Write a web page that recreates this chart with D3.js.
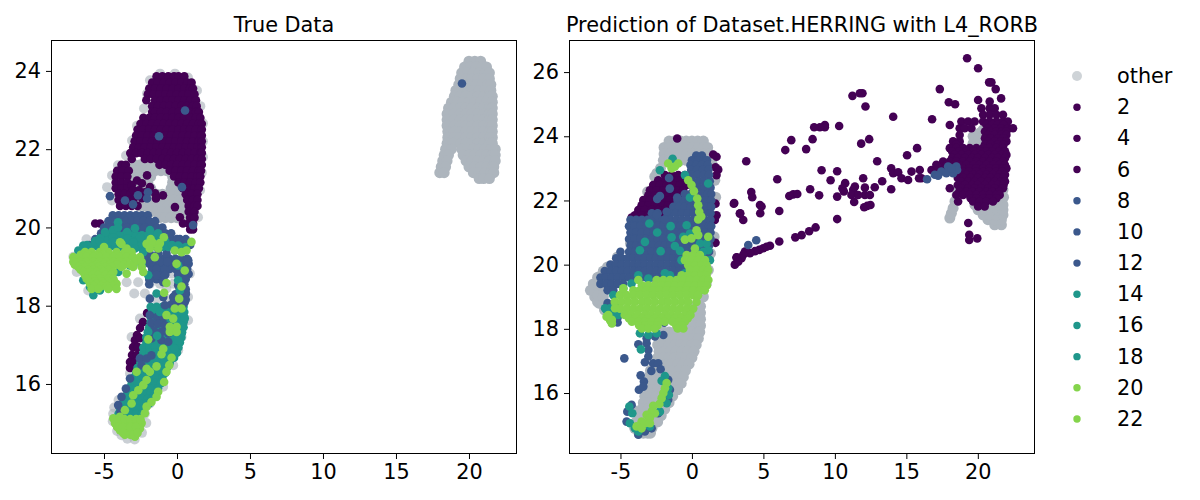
<!DOCTYPE html>
<html><head><meta charset="utf-8">
<script src="https://cdn.jsdelivr.net/npm/d3@7"></script>
<style>html,body{margin:0;background:#fff}svg{display:block}text{font-family:"DejaVu Sans",sans-serif;fill:#000}</style>
</head><body><div id="chart"></div>
<script>
// ---------- text ----------
const titleLeft = "True Data";
const titleRight = "Prediction of Dataset.HERRING with L4_RORB";
const legendLabels = ["other","2","4","6","8","10","12","14","16","18","20","22"];
const legendGroups = ["other","purple","purple","purple","blue","blue","blue","teal","teal","teal","green","green"];
const xTicks = [-5,0,5,10,15,20];
const yTicksLeft = [16,18,20,22,24];
const yTicksRight = [16,18,20,22,24,26];
const xDomainLeft = [-8.63,23.29], yDomainLeft = [14.21,24.79];
const xDomainRight = [-8.6,24], yDomainRight = [14.1,27];

// ---------- left panel: rows are [y, x, x, ...] ; pairs are [x, y] ----------
const leftOtherRows = [
[24.25,20,20.4,20.8],[24.1,19.7,20.1,20.5,20.9,21.2],[23.95,19.5,19.9,20.3,20.7,21.1,21.4],
[23.8,19.4,19.8,20.2,20.6,21,21.4],[23.65,19.3,19.7,20.1,20.5,20.9,21.3,21.5],[23.5,19.1,19.5,19.9,20.3,20.7,21.1,21.5],
[23.35,19,19.4,19.8,20.2,20.6,21,21.4,21.6],[23.2,18.8,19.2,19.6,20,20.4,20.8,21.2,21.6],[23.05,18.6,19,19.4,19.8,20.2,20.6,21,21.4,21.6],
[22.9,18.5,19,19.4,19.8,20.2,20.6,21,21.4,21.6],[22.75,18.5,19,19.4,19.8,20.2,20.6,21,21.4,21.6],[22.6,18.5,19,19.4,19.8,20.2,20.6,21,21.4,21.6],
[22.45,18.55,19,19.4,19.8,20.2,20.6,21,21.4,21.6],[22.3,18.55,19,19.4,19.8,20.2,20.6,21,21.4,21.6],[22.15,18.5,18.9,19.45,19.8,20.2,20.6,21,21.4,21.6],
[22,18.4,18.8,19.5,19.9,20.3,20.7,21.1,21.5,21.8],[21.85,18.3,18.6,19.6,20,20.4,20.8,21.2,21.6,21.8],[21.7,18.2,18.5,19.8,20.2,20.6,21,21.4,21.8],
[21.55,18.1,18.4,20,20.4,20.8,21.2,21.6,21.7],[21.4,18,18.3,20.3,20.7,21.1,21.5,21.7],[21.25,20.7,21,21.4],
[21.6,-2.9,-2.5,-2.1,-1.7],[21.45,-3.1,-2.7,-2.3,-1.9,-1.5,-1.1,-.7,-.3],[21.3,-3,-2.6,-2.2,-1.8,-.3,0],[21.15,-3.2,-2.8,-2.4,-2,-.3,.1],[21,-3,-2.6,-2.2,-1.8,-.4,.1,.4],[20.85,-3,-2.6,-2.2,-1.8,-1.4,-1,-.6,-.2,.2,.5],[20.7,-3,-2.6,-2.2,-1.8,-1.4,-1,-.6,-.2,.2,.5],[20.55,-2.6,-2.2,-1.8,-1.4,-1,-.6,-.2,.2,.6],[20.4,-1.8,-1.4,-1,-.6,-.2,.2,.6],[20.25,-1.2,-.8,-.4,0,.4,.8]
];
const leftOtherRimPairs = [
[-1.16,23.93],[-1.85,23.76],[-2.05,23.42],[-2.26,23.04],[-2.74,22.6],[-3.08,22.22],[-3.49,21.84],[-4.04,21.59],[-4.45,21.33],[-4.79,21.03],[-4.45,20.69],
[.75,23.83],[-.14,23.93],[1.37,23.5],[1.78,22.66],[1.78,22.2],[1.78,21.8],[1.58,20.95],[1.44,20.26],[1.7,21.4],[1.6,23.1],
[-6.87,18.86],[-6.08,18.39],[-3.45,18.6],[-2.66,18.6],[-1.86,18.56],[-1.17,18.56],[-.72,18.44],[-.38,18.82],[-.26,18.56],[-1.4,18.18],[-.72,18.18],[-2.93,18.31],[-2.2,18.31],
[-2.54,17.67],[-3.11,17.2],[-3.22,16.27],[-4,15.59],[-4.37,15.24],[-3.8,14.69],[-2.9,14.58],[.76,17.63],[.08,16.86],[-.95,15.93],[-1.86,15.5],[.31,17.2],[-.26,16.48],[-1.63,16.1],[-2.2,15.24],[.76,18.22],[.88,18.82],[-7.1,19.25],[-6.2,19.7],
[-4.4,15.05],[-4.1,14.8],[-3.4,14.6],[-2.4,14.75],[-2.1,15],[-4.3,15.4]
];
const leftPurpleRows = [
[23.86,-1.4,-1,-.6,-.2,.1,.5],[23.7,-1.7,-1.3,-.9,-.5,-.1,.3,.7,1],[23.55,-1.9,-1.5,-1.1,-.7,-.3,.1,.5,.9,1.1],[23.4,-2,-1.6,-1.2,-.8,-.4,0,.4,.8,1.2],
[23.25,-2.1,-1.5,-1.1,-.7,-.3,.1,.5,.9,1.3],[23.1,-1.7,-1.3,-.9,-.5,-.1,.3,.7,1.1,1.35],[22.95,-1.7,-1.5,-1.1,-.7,-.3,.1,.5,.9,1.3,1.5],
[22.8,-2.3,-1.9,-1.5,-1.1,-.7,-.3,.1,.5,.9,1.3,1.6],[22.65,-2.5,-2.1,-1.7,-1.3,-.9,-.5,-.1,.3,.7,1.1,1.5,1.7],[22.5,-2.7,-2.3,-1.9,-1.5,-1.1,-.7,-.3,.1,.5,.9,1.3,1.7],
[22.35,-2.8,-2.4,-2,-1.6,-1.2,-.8,-.4,0,.4,.8,1.2,1.6,1.7],[22.2,-2.9,-2.5,-2.1,-1.7,-1.3,-.9,-.5,-.1,.3,.7,1.1,1.5,1.7],[22.05,-3,-2.6,-2.2,-1.8,-1.4,-1,-.6,-.2,.2,.6,1,1.4,1.7],
[21.9,-3.2,-2.8,-2.4,-2,-1.6,-1.2,-.8,-.4,0,.4,.8,1.2,1.6,1.7],[21.75,-3.1,-2.2,-1.8,-1.4,-1,-.6,-.2,.2,.6,1,1.4,1.7],[21.6,-3.8,-3.5,-1.2,-.8,-.4,0,.4,.8,1.2,1.6,1.7],
[21.45,-4.1,-3.7,-3.3,-.5,-.1,.3,.7,1.1,1.5,1.65],[21.3,-4.2,-3.8,-3.4,-.2,.2,.6,1,1.4,1.6],[21.15,-4.2,-3.8,-3.4,.1,.5,.9,1.3,1.6],[21,-4.2,-3.8,-3.4,.4,.8,1.2,1.5],
[20.85,-4,-3.6,-3.2,.6,1,1.4],[20.7,-4,-3.6,-3.2,.7,1.1,1.4],[20.55,-3.9,-3.5,-3.1,-2.7,.8,1.2,1.4],[20.4,.8,1.2],[20.25,.9,1.2],[20.1,.8,1.1],[19.95,.9,1.1]
];
const leftPurplePairs = [
[-2.05,21.33],[-2.74,21.2],[-3.1,21.08],[-2.4,21.13],[-1.85,21.03],[-1.5,20.87],[-.96,20.82],[-1.44,20.74],[-.14,20.52],[.2,20.26],[.41,20.1],[-5.27,20.1],[-5.6,20.1],
[-3,20.95],[-2.6,20.95],[-2.2,20.9],[-2.8,20.8],[-2.4,20.75],[-3,20.7],
[-2.05,17.81],[-2.33,17.58],[-2.53,17.43],[-2.74,17.25],[-2.88,17.12],[-2.53,17.17],[-3.01,16.94],[-2.67,16.94],[-3.08,16.74],[-2.74,16.74],[-3.22,16.56],[-2.88,16.56],[-3.22,16.41]
];
const leftLowerTealRows = [
[17.97,-1.8,-1.4,-1,-.6,-.2,.2,.45],[17.84,-1.7,-1.3,-.9,-.5,-.1,.3,.5],[17.71,-1.8,-1.4,-1,-.6,-.2,.2,.5],[17.58,-1.8,-1.4,-1,-.6,-.2,.2,.45],[17.45,-1.9,-1.5,-1.1,-.7,-.3,.1,.45],[17.32,-2,-1.6,-1.2,-.8,-.4,0,.35],[17.19,-2.1,-1.7,-1.3,-.9,-.5,-.1,.3],[17.06,-2.1,-1.7,-1.3,-.9,-.5,-.1,.2],[16.93,-2.3,-1.9,-1.5,-1.1,-.7,-.3,.1],[16.8,-2.3,-1.9,-1.5,-1.1,-.7,-.3,0],[16.67,-2.5,-2.1,-1.7,-1.3,-.9,-.5,-.2],[16.54,-2.5,-2.1,-1.7,-1.3,-.9,-.5],[16.41,-2.7,-2.3,-1.9,-1.5,-1.1,-.7],[16.28,-2.8,-2.4,-2,-1.6,-1.2,-.8],[16.15,-3,-2.6,-2.2,-1.8,-1.4,-1],[16.02,-3.1,-2.7,-2.3,-1.9,-1.5,-1.1],[15.89,-3.3,-2.9,-2.5,-2.1,-1.7,-1.3],[15.76,-3.4,-3,-2.6,-2.2,-1.8,-1.5],[15.63,-3.6,-3.2,-2.8,-2.4,-2,-1.7],[15.5,-3.7,-3.3,-2.9,-2.5,-2.1,-1.9],[15.37,-3.9,-3.5,-3.1,-2.7,-2.3],[15.24,-4,-3.6,-3.2,-2.8,-2.4]
];
const leftBlueRows = [
[20.31,-4.4,-4,-3.6,-3.2,-2.8,-2.4,-2],[20.16,-4.7,-4.3,-3.9,-3.5,-3.1,-2.7,-2.3,-1.9,-1.5],[20,-5,-4.6,-4.2,-3.8,-3.4,-3,-2.6,-2.2,-1.8,-1.4,-1],
[19.85,-5.2,-4.8,-4.4,-4,-3.6,-3.2,-2.8,-2.4,-2,-1.6,-1.2,-.8,-.4],[19.7,-5.6,-5.2,-4.8,-4.4,-4,-3.6,-3.2,-2.8,-2.4,-2,-1.6,-1.2,-.8,-.4,0,.2,.6],
[19.55,-6,-5.5,-5,-4.5,-4,-3.5,-3,-2.5,-2,-1.5,-1,-.5,0,.5,.9],
[19.2,-2.1,-1.7,-1.3,-.9,-.5,-.1,.3,.7],[19.07,-1.9,-1.5,-1.1,-.7,-.3,.1,.5,.8],[18.94,-1.7,-1.3,-.9,-.5,-.1,.3,.7],[18.81,-1.5,-1.1,-.8,.1,.5,.8],[18.68,-1.9,-1.4,-1,.2,.6],[18.55,-1.9,.1,.5],[18.42,.2,.6],[18.29,-.1,.3,.6],[18.16,-.2,.2,.6],[18.03,-.4,0,.4]
];
const leftBluePairs = [
[.55,22.99],[-1.23,22.33],[.34,21.03],[-4.59,20.8],[-3.56,20.69],[-3.01,20.59],[-2.67,20.82],[-1.99,20.9],[-2.05,20.74],[1.1,20.06],[19.52,23.68],
[-1.86,19.33],[-1.29,19.33],[-.72,19.33],[-.15,19.41],[.42,19.41],[-1.75,19.12],[-1.17,19.12],[-.67,19.12],[-.03,19.07],[.77,19.16],[-1.4,18.95],[-.83,18.92],[-1.4,18.78],[-.83,18.78],[.08,18.78],[.53,18.7],[-1.86,18.65],[-.94,18.6],[.08,18.52],[.6,18.33],[-1.86,18.18],[-.94,18.22],[-.26,18.22],[.31,18.31],[-.83,18.01],[-.03,18.01],[.53,18.09],
[-1.86,17.76],[-1.36,17.71],[-.94,17.69],[-1.75,17.56],[-1.29,17.54],[-.83,17.5],[-1.59,17.37],[-1.06,17.33],[-.6,17.29],[-1.75,17.16],[-1.06,17.12],[-.6,17.08],[-2.54,16.65],[-2.08,16.65],[-1.75,16.73],[-2.43,16.48],[-3.22,16.14],[-3.5,15.88],[-3.8,15.67],[-4.03,15.46],[-3.87,15.29]
];
const leftTealRows = [
[19.8,-4.8,-4.4,-4,-3.6,-3.2,-2.8,-2.4,-2,-1.6],[19.65,-5.6,-5.2,-4.8,-4.4,-4,-3.6,-3.2,-2.8,-2.4,-2,-1.6,-1.2,-.8],[19.5,-6.2,-5.8,-5.4,-5,-4.6,-4.2,-3.8,-3.4,-3,-2.6,-2.2,-1.8,-1.4,-1,-.6,-.2,.2,.6]
];
const leftTealPairs = [
[-4.04,20.13],[-4.93,19.88],[-4.38,19.93],[-3.42,19.88],[-2.88,19.98],[-1.85,19.93],[-1.3,19.85],[-5.62,19.62],[-6.16,19.55],[-5.27,19.72],[-4.38,19.75],[-3.42,19.72],[-2.53,19.75],[-.34,19.55],[-4.04,20],[-3.9,19.67],[-3.01,19.62],
[-6.76,19.41],[-6.42,19.54],[-5.73,18.27],[-5.28,19.63],[-4.36,19.63],[-3.57,19.54],[-2.88,19.46],[-2.31,19.37],[-4.02,18.86],[-3.22,19.03],[-2.42,19.03],[-1.97,18.78],[-5.73,18.56],[-6.42,18.65],[-5.28,18.39],[-5.96,18.48],
[-1.4,18.31],[.08,19.54],[.08,18.65],[.08,19.03],[.2,18.39],[-1.52,17.93],[-1.17,17.84],[.31,17.84],[.53,17.67],[.31,17.5],[.31,17.29],[.08,17.12],[-.15,16.9],[-1.97,17.33],[-1.36,17.23]
];
const leftGreenRows = [
[19.37,-6.3,-5.85,-5.28,-4.7,-4.14,-3.57,-3.11],[19.3,-6.6,-6.1,-5.6,-5.1,-4.6,-4.1,-3.7,-3.3],[19.24,-7.1,-6.65,-6.19,-5.73,-5.28,-4.82,-4.36,-3.91,-3.45,-3,-2.54],[19.12,-7.1,-6.65,-6.19,-5.73,-5.28,-4.82,-4.36,-3.91,-3.45,-2.88,-2.42],[19.05,-7,-6.5,-6,-5.5,-5,-4.6,-4.1,-3.6,-3.2],
[18.99,-6.76,-6.3,-5.85,-5.39,-4.93,-4.48,-3.8,-3,-2.42],[18.92,-6.6,-6.1,-5.7,-5.2,-4.7],[18.86,-6.42,-5.96,-5.5,-5.05,-4.36,-2.31],[18.78,-6.3,-5.8,-5.4,-4.9,-4.5],[18.69,-6.19,-5.73,-5.28,-4.7,-4.36],[18.62,-6,-5.6,-5.1,-4.7,-4.3],[18.56,-5.96,-5.5,-5.05,-4.59,-4.14],[18.5,-5.7,-5.2,-4.8,-4.4],[18.43,-5.85,-5.39,-4.7,-4.14]
];
const leftGreenPairs = [
[-3.9,19.62],[-5,19.5],[-1.8,19.7],[-.9,19.75],
[-3.45,18.82],[-3.8,19.58],[-3.45,19.46],[-2.08,19.58],[-1.63,19.6],[-1.17,19.6],[-1.86,19.46],[-1.29,19.46],[-1.52,19.24],[-.72,18.58],[-.88,18.33],[-.03,19.07],[.53,18.9],[.31,18.49],[-.15,19.41],[.31,19.37],[.65,19.41],[.99,19.63],[.15,18.18],[-.15,17.93],[.31,17.93],[-.72,17.76],[-.26,17.67],[-.49,17.46],[-.03,17.46],[-.49,17.33],[-.03,17.33],[-1.97,17.14],[-.94,16.9],[-1.06,16.76],[-.37,16.67],[-.53,16.48],[-.72,16.31],[-.88,16.05],[-1.29,15.8],[-1.4,15.67],[-1.75,15.54],[-2.08,15.42],[-2.2,15.25],
[-1.4,16.45],[-1.86,16.31],[-2.08,16.39],[-2.77,16.31],[-2.08,16.1],[-2.31,15.97],[-2.65,15.84],[-3,15.71],[-3.11,15.5],[-3.57,15.33],
[-4.36,15.12],[-3.91,15.16],[-4.25,15],[-3.8,15],[-3.34,14.95],[-3,15],[-2.42,15],[-3.91,14.82],[-3.45,14.82],[-3,14.82],[-2.54,14.86],[-3.57,14.7],[-2.88,14.65],
[-4.1,15.05],[-3.6,15.1],[-3.2,15.1],[-2.8,15.1],[-4.1,14.9],[-3.7,14.9],[-3.2,14.9],[-2.8,14.9],[-2.5,15.1],[-3.7,14.75],[-3.2,14.7],[-3,14.7],[-2.7,14.75]
];

// ---------- right panel ----------
const rightOtherRows = [
[23.85,-1.6,-1.2,-.8,-.4,0,.4,.8],[23.65,-1.95,-1.55,-1.15,-.75,-.35,.05,.45,.85,1.1],[23.45,-1.95,-1.55,-1.15,-.75,-.35,.05,.45,.85,1.2],[23.25,-2,-1.6,-1.2,-.8,-.4,0,.4,.8,1.2],
[19.8,-6.2,-5.9],[19.6,-6.6,-6.3],[19.4,-6.9,-6.5],[19.2,-7.1,-6.7,-6.3],[19,-6.8,-6.4],[18.8,-6.5,-6.2],[18.6,-6.1,-5.9],
[18.7,.2,.6],[18.5,-.1,.3,.6],[18.3,-.4,0,.4,.6],[18.1,-.9,-.5,-.1,.3,.6],[17.9,-2,-1.6,-1.2,-.8,-.4,0,.4,.55],[17.7,-2.3,-1.9,-1.5,-1.1,-.7,-.3,.1,.45],[17.5,-2.4,-2,-1.6,-1.2,-.8,-.4,0,.3],[17.3,-2.3,-1.9,-1.5,-1.1,-.7,-.3,.15],[17.1,-2.4,-2,-1.6,-1.2,-.8,-.4,0],[16.9,-2.6,-2.2,-1.8,-1.4,-1,-.6,-.2],[16.7,-2.9,-2.5,-2.1,-1.7,-1.3,-.9,-.45],[16.5,-3,-2.6,-2.2,-1.8,-1.4,-1,-.6],[16.3,-3,-2.6,-2.2,-1.8,-1.4,-1.1,-.75],[16.1,-3.2,-2.8,-2.4,-2,-1.6,-1.2,-1],[15.9,-3.3,-2.9,-2.5,-2.1,-1.7,-1.35],[15.7,-3.4,-3,-2.6,-2.2,-1.8,-1.6],[15.5,-3.5,-3.1,-2.7,-2.3,-1.9],[15.3,-3.7,-3.3,-2.9,-2.5,-2.15],[15.1,-3.9,-3.5,-3.1,-2.7,-2.4],[14.9,-4,-3.6,-3.2,-2.8],[14.75,-3.7,-3.4,-3.1,-2.9],
[21.24,21.18,21.65],[21.4,20.71,21.18,21.65],[21.55,20.37,20.83,21.3,21.76],[21.71,20.02,20.48,20.95,21.41,21.76],[21.86,19.8,20.6,21.06,21.5,21.76]
];
const rightOtherPairs = [
[-2.6,22.74],[-3.1,22.27],[-3.55,21.7],[-4.15,21.28],[-4.3,20.66],[-5.2,20.24],[-5.9,19.93],[-6.5,19.62],[-6.95,19.2],[-6.6,18.84],[-6.1,18.58],[-2.2,23],[-2.45,22.85],[-6.5,19.3],[-6.2,19.6],[-6.6,19.05],[-6.2,19],[-6.2,18.75],
[1.4,23.15],[1.66,22.1],[1.6,22.63],[1.55,21.49],[1.55,20.87],[1.3,20.35],[1.15,19.83],[1,19.4],[.8,19],[-4.1,15.47],
[19.67,24],[20.13,24.1],[20.37,24.2],[19.67,23.78],[20.02,23.84],[18.04,21.45],[18.15,21.6],[18.27,21.76],[18.4,21.97],[18.55,22.17],[18.62,22.38],[21.76,22.33],[21.8,22.1],[21.8,22.6]
];
const rightPurpleRows = [
[22.79,-1.89,-1.42,-.96,-.49],[22.63,-2.36,-1.89,-1.42,-.96,-.49],[22.48,-2.71,-2.24,-1.77,-1.31,-.84,-.37],[22.32,-2.94,-2.47,-2,-1.54,-1.07,-.61],[22.16,-3.05,-2.59,-2.12,-1.66,-1.19,-.72],[22.01,-3.4,-2.94,-2.47,-2,-1.54,-1.07],[21.85,-3.52,-3.05,-2.59,-2.12,-1.66],[21.7,-3.75,-3.29,-2.82,-2.36,-1.89],[21.54,-3.99,-3.52,-3.05,-2.12,-1.66],
[24.87,20.25,20.83,21.18],[24.67,20.37,20.83,21.3,21.76],[24.46,18.85,19.32,19.78,20.37,20.83,21.3,21.76,22.1],[24.36,20.6,21,21.4,21.8],[24.25,18.73,19.08,19.55,20.72,21.18,21.65,22.1,22.46],[24.15,20.5,20.9,21.3,21.7,22],[24.04,18.73,20.72,21.18,21.65,22],[23.94,20.5,20.9,21.4,21.8],[23.84,18.27,18.73,20.72,21.18,21.65,22],[23.74,18.5,20.5,20.9,21.4,21.8],[23.63,18.04,18.5,18.97,19.43,19.9,20.37,20.83,21.3,21.76],[23.53,18.2,18.7,19.2,19.7,20.2,20.6,21,21.5,21.9],[23.42,18.38,18.85,19.32,19.78,20.25,20.72,21.18,21.65,22],[23.32,18.2,18.6,19.1,19.6,20,20.5,21,21.4,21.9],[23.21,17.57,18.04,18.5,18.97,19.43,19.9,20.37,20.83,21.3,21.76],[23.1,17.8,18.3,18.7,19.2,19.7,20.1,20.6,21.1,21.5,21.9],[23,17.1,17.57,18.04,18.5,18.97,19.43,19.9,20.37,20.83,21.3,21.76,22],[22.9,18.5,19,19.4,19.9,20.4,20.8,21.3,21.7],[22.8,18.73,19.2,19.67,20.13,20.6,21.06,21.53,21.9],[22.7,18.6,19,19.5,20,20.5,20.9,21.4,21.8],[22.59,18.85,19.32,19.78,20.25,20.72,21.18,21.65,21.9],[22.48,18.6,19.1,19.6,20,20.5,21,21.4,21.8],[22.38,18.04,18.85,19.32,19.78,20.25,20.72,21.18,21.76],[22.27,18.7,19.2,19.6,20.1,20.6,21,21.5],[22.17,18.5,18.97,19.43,19.9,20.37,20.83,21.3,21.53],[22.07,19.5,19.9,20.4,20.8,21.3],[21.97,18.62,19.67,20.13,20.6,21.06],[21.81,20.02,20.48]
];
const rightPurplePairs = [
[19.25,26.43],[20.02,26.12],[20.95,25.68],[20.79,25.68],[21.25,25.47],[21.63,25.18],[20.83,25.08],[20.02,25.13],[17.34,25.47],[17.97,25.06],[18.41,25],[16.8,24.53],[18.04,24.35],[14.08,24.61],[11.23,25.26],[11.75,25.34],[11.93,25.34],[12.14,24.93],[10.3,24.32],[9.3,24.35],[9.3,24.28],[8.95,24.28],[8.55,24.28],[8.44,23.91],[6.95,23.88],[6.53,23.57],[7.99,23.6],[12.4,23.91],[11.84,23.77],[15.75,23.63],[15.05,23.41],[12.96,23.22],[3.8,23.22],[9.07,22.94],[10.16,22.91],[5.97,22.66],[9.7,22.63],[11.98,22.69],[10.72,22.54],[10.53,22.38],[10.63,22.28],[11.4,22.43],[11.28,22.33],[11.16,22.17],[12.1,22.4],[12.1,22.17],[12.45,22.17],[11.63,22.17],[12.79,22.41],[13.31,22.6],[13.94,23],[14.08,22.85],[14.43,22.88],[14.66,22.69],[15.12,22.64],[15.36,22.9],[15.94,22.95],[16.06,22.69],[15.89,22.69],[16.76,22.95],[17.1,23.11],[13.94,22.35],[8.27,22.35],[8.9,22.16],[10.16,22.12],[11.35,21.95],[6.81,22.14],[7.09,22.19],[7.37,22.2],[4.15,22.26],[4.22,22.1],[2.96,21.92],[3.38,21.6],[3.59,21.39],[4.76,21.86],[4.87,21.81],[4.78,21.6],[6.11,21.67],[12.05,21.79],[12.26,21.83],[12.49,21.86],[10.16,21.42],[8.65,21.16],[8.2,21.04],[7.67,20.92],[7.23,20.85],[6.11,20.72],[5.46,20.59],[5.22,20.56],[4.99,20.51],[4.71,20.46],[4.41,20.42],[4.06,20.36],[3.71,20.41],[3.59,20.31],[3.13,20.23],[3.47,20.2],
[-1.03,23.93],[1.49,23.43],[1.72,23.36],[1.65,23.03],[1.84,22.96],[1.72,22.79],[1.65,21.9],[2.93,21.9],[3.35,21.59],[1.72,21.54],[1.6,21.39],[1.65,20.68],[3.12,20.22],[3,20],[3.24,20.09],[-4.22,21.47],
[19.33,21.3],[19.4,20.93],[19.4,20.77],[19.96,20.82]
];
const rightBlueRows = [
[23.4,.3,.7],[23.25,0,.4,.8,1.05],[23.1,-.1,.3,.7,1.1],[22.95,-.05,.35,.75,1.15],[22.8,0,.4,.8,1.2],[22.6,.05,.45,.85,1.25],[22.4,.1,.5,.9,1.3],[22.2,-.5,-.1,.3,.7,1.1,1.35],[22,-1,-.6,-.2,.2,.6,1,1.35],[21.8,-1.3,-.9,-.5,-.1,.3,.7,1.1,1.35],[21.6,-2.8,-2.4,-1.5,-1.1,-.7,-.3,.1,.5,.9,1.3],
[21.4,-4.3,-3.9,-3.5,-3.1,-2.7,-2.3,-1.9,-1.5,-1.1,-.7,-.3,.1,.5,.9,1.3],[21.2,-4.4,-4,-3.6,-3.2,-2.8,-2.4,-2,-1.6,-1.2,-.8,-.4,0,.4,.8,1.2,1.35],[21,-4.3,-3.9,-3.5,-3.1,-2.7,-2.3,-1.9,-1.5,-1.1,-.7,-.3,.1,.5,.9,1.3],[20.8,-4.4,-4,-3.6,-3.2,-2.8,-2.4,-2,-1.6,-1.2,-.8,-.4,0,.4,.8,1.2,1.3],[20.6,-4.3,-3.9,-3.5,-3.1,-2.7,-2.3,-1.9,-1.5,-1.1,-.7,-.3,.1,.5,.9,1.2],
[20.4,-5,-4.4,-4,-3.6,-3.2,-2.8,-2.4,-2,-1.6,-1.2,-.8,-.4,0,.4,.8,1.2],[20.2,-5.3,-4.9,-4.5,-4.1,-3.7,-3.3,-2.9,-2.5,-2.1,-1.7,-1.3,-.9,-.5,-.1,.3,.7,1.1],[20,-5.7,-5.3,-4.9,-4.5,-4.1,-3.7,-3.3,-2.9,-2.5,-2.1,-1.7,-1.3,-.9,-.5,-.1,.1],[19.8,-6.1,-5.7,-5.3,-4.9,-4.5,-4.1,-3.7,-3.3,-2.9,-2.5,-2.1,-1.7,-1.3,-.9,-.5,-.3],[19.6,-6.4,-6,-5.6,-5.2,-4.8,-4.4,-4,-3.6,-3.2,-2.8,-2.4,-2,-1.6,-1.2],[19.4,-6.4,-6,-5.6,-5.2,-4.8],[19.2,-5.9,-5.5]
];
const rightBluePairs = [
[-1.6,22.7],[-1.55,22.37],[-2.43,22.05],[-2.24,22.14],[-1.03,22.09],[-1.77,21.65],[-2.47,21.55],[-1.89,21.41],
[-5.6,18.2],[-5.2,18.2],[-5.9,18.8],[-5.5,18.5],[-5.2,18.35],
[-3.75,17.52],[-3.17,17.55],[-3.05,17.34],[-3.05,17.14],[-3.29,16.96],[-2.71,16.93],[-2.36,16.93],[-2.19,16.74],[-4.73,17.08],[-2.84,16.69],[-3.59,16.55],[-3.36,16.36],[-3.71,16.1],[-3.4,16.2],[-1.94,18.19],[-2,17.81],[-2.59,17.76],[-3.17,17.71],[-1.66,16.41],[-1.54,16.1],[-1.66,15.79],[-4.22,15.63],[-4.52,15.42],[-3.75,14.7],[-3.29,14.8],[-2.82,14.9],[-4.57,15.11],[-2.36,15.37],
[16.45,22.66],[16.99,22.8],[17.45,22.9],[17.92,23.06],[18.5,23.06],[17.8,22.85],[18.27,22.85],[18.55,22.95],[17.22,22.77],[18.15,23],[3.94,20.61],[4.5,20.76]
];
const rightTealPairs = [
[-2.98,21.28],[-2.43,21],[-1.49,21.2],[-.37,21.23],[-1.42,20.85],[-3.29,20.71],[-3.64,20.45],[-2.19,20.42],[-1.19,20.58],[-.84,20.43],[-.61,20.87],[-.14,20.97],[1.14,22.53],[-.14,22.09],[-2.24,22.94],[-1.35,23.3],[-.49,22.79],[.56,20.66],[1.02,20.66],[1.14,20.45],[.79,20.4],[.44,20.35],[1.26,20.14],[-.73,20.14],[-3.75,19.67],[-3.05,19.57],[-1.89,19.73],[-1.54,19.67],[-.49,19.73],[-4.22,19.41],[-4.8,19.26],[-5.5,19.05],[-5.97,18.58],[-5.6,18.43],[-5.15,18.69],[.79,20.04],
[-3.64,17.86],[-3.05,17.81],[-2.47,17.86],[-3.57,17.36],[-5.73,18.64],[-5.38,18.6],[-6.08,18.64],[-5.15,18.43],
[-4.38,15.58],[-4.17,15.37],[-4.34,15.06],[-1.89,16.53],[-2.12,16.38],[-1.66,16.15],[-1.61,15.94],[-1.77,15.68],[-2.24,15.42],[-2.94,14.96],[-3.75,14.8],[-3.99,14.9]
];
const rightGreenRows = [
[20.3,-.37,.09,.56],[20.14,-.49,-.02,.44,.91],[19.98,-.26,.21,.67,1.02],[19.83,-.14,.32,.79,1.14],[19.67,-.72,-.26,.21,.67,1.02],[19.52,-2.47,-2,-1.54,-1.07,-.61,-.14,.32,.79,1.15],[19.36,-3.5,-3.05,-2.6,-2.1,-1.65,-1.2,-.72,-.26,.21,.67,1.05],[19.2,-4.1,-3.64,-3.17,-2.71,-2.24,-1.77,-1.31,-.84,-.37,.09,.56,.9],[19.05,-5.04,-4.57,-4.1,-3.64,-3.17,-2.71,-2.24,-1.77,-1.31,-.84,-.37,.09,.43],[18.84,-5.4,-4.92,-4.45,-4,-3.5,-3.05,-2.6,-2.1,-1.65,-1.2,-.72,-.26,.32],[18.63,-5.04,-4.57,-4.1,-3.64,-3.17,-2.71,-2.24,-1.77,-1.31,-.84,-.37,.09],[18.43,-4.7,-4.25,-3.8,-3.3,-2.85,-2.4,-1.9,-1.45,-1,-.5,-.1],[18.32,-4.4,-3.95,-3.5,-3.05,-2.6,-2.1,-1.65,-1.2,-.75,-.3],[18.22,-4.2,-3.75,-3.3,-2.8,-2.35,-1.9,-1.35,-.9,-.5],[18.11,-3.7,-3.25,-2.8,-2.4,-1.1,-.7],[18.01,-3.5,-3.05,-2.6,-1,-.6]
];
const rightGreenPairs = [
[-1.66,23.15],[-.96,23.15],[-1.42,23],[-1.2,23.05],[-.26,22.63],[-.03,22.48],[.14,22.29],[.37,22.06],[.44,21.85],[.51,21.65],[.44,21.41],[.65,21.5],[.32,21.07],[-.49,20.78],[-.03,20.82],[1.14,20.87],[.44,20.92],[.21,20.5],[-3.75,19.52],[-4.8,19.26],[-5.73,18.27],[-5.97,18.38],[-5.38,18.64],[-5.6,18.17],[-5.6,18.28],[-5.85,18.43],
[-1.77,16.31],[-1.89,16.15],[-2,16],[-2.12,15.84],[-2.28,15.66],[-2.71,15.6],[-2.82,15.42],[-2.59,15.37],[-3.17,15.32],[-2.94,15.22],[-3.52,15.11],[-3.29,15.06],[-3.87,14.96],[-3.52,14.9],[-2.94,15.06]
];

// ---------- drawing ----------
const W = 1200, H = 500;
const fontPx = "20.8px";
const colors = {other:"#adb5bd", rim:"#adb5bd", purple:"#440154", blue:"#3b588c", teal:"#1f978b", green:"#84d44b"};
const dataOpacity = {other:1, rim:.65, purple:1, blue:1, teal:1, green:1};
const legendOpacity = {other:.6, purple:1, blue:1, teal:1, green:1};
const rad = {other:5.5, rim:5, purple:4.3, blue:4.3, teal:4.3, green:4.3};
const expand = rows => rows.flatMap(r => r.slice(1).map(x => [x, r[0]]));

const svg = d3.select("#chart").append("svg").attr("width",W).attr("height",H);

function panel(box, xDom, yDom, yTicks, title, layers){
  const x = d3.scaleLinear().domain(xDom).range([box.l, box.r]);
  const y = d3.scaleLinear().domain(yDom).range([box.b, box.t]);
  const clipId = "c"+box.l;
  svg.append("clipPath").attr("id",clipId).append("rect").attr("x",box.l).attr("y",box.t).attr("width",box.r-box.l).attr("height",box.b-box.t);
  const g = svg.append("g").attr("clip-path",`url(#${clipId})`);
  layers.forEach(([name,pts]) => {
    g.append("g").selectAll("circle").data(pts).join("circle")
      .attr("cx",d=>x(d[0])).attr("cy",d=>y(d[1])).attr("r",rad[name])
      .attr("fill",colors[name]).attr("fill-opacity",dataOpacity[name]);
  });
  const ax = svg.append("g").attr("transform",`translate(0,${box.b})`).call(d3.axisBottom(x).tickValues(xTicks).tickSize(5).tickPadding(5).tickFormat(d=>String(d)));
  const ay = svg.append("g").attr("transform",`translate(${box.l},0)`).call(d3.axisLeft(y).tickValues(yTicks).tickSize(5).tickPadding(5).tickFormat(d=>String(d)));
  [ax,ay].forEach(a=>{ a.select(".domain").remove(); a.selectAll("text").style("font-size",fontPx).style("font-family",'"DejaVu Sans"').attr("fill","#000"); a.selectAll("line").attr("stroke","#000").attr("stroke-width",1); });
  svg.append("rect").attr("x",box.l+.5).attr("y",box.t+.5).attr("width",box.r-box.l-1).attr("height",box.b-box.t-1).attr("fill","none").attr("stroke","#000").attr("stroke-width",1);
  svg.append("text").attr("x",(box.l+box.r)/2).attr("y",box.t-8).attr("text-anchor","middle").style("font-size",fontPx).text(title);
}

panel({l:51,r:517,t:40,b:454}, xDomainLeft, yDomainLeft, yTicksLeft, titleLeft, [
  ["rim", leftOtherRimPairs],
  ["other", expand(leftOtherRows)],
  ["purple", expand(leftPurpleRows).concat(leftPurplePairs)],
  ["teal", expand(leftLowerTealRows)],
  ["blue", expand(leftBlueRows).concat(leftBluePairs)],
  ["teal", expand(leftTealRows).concat(leftTealPairs)],
  ["green", expand(leftGreenRows).concat(leftGreenPairs)]
]);
panel({l:569,r:1035,t:40,b:454}, xDomainRight, yDomainRight, yTicksRight, titleRight, [
  ["other", expand(rightOtherRows).concat(rightOtherPairs)],
  ["purple", expand(rightPurpleRows).concat(rightPurplePairs)],
  ["blue", expand(rightBlueRows).concat(rightBluePairs)],
  ["teal", rightTealPairs],
  ["green", expand(rightGreenRows).concat(rightGreenPairs)]
]);

const legendY = d3.scalePoint().domain(legendLabels).range([76,419]);
const leg = svg.append("g").selectAll("g").data(legendLabels).join("g").attr("transform",d=>`translate(0,${legendY(d)})`);
leg.append("circle").attr("cx",1077).attr("cy",0).attr("r",(d,i)=>legendGroups[i]==="other"?5:3.7).attr("fill",(d,i)=>colors[legendGroups[i]]).attr("fill-opacity",(d,i)=>legendOpacity[legendGroups[i]]);
leg.append("text").attr("x",1117).attr("y",7).style("font-size",fontPx).text(d=>d);
</script></body></html>
